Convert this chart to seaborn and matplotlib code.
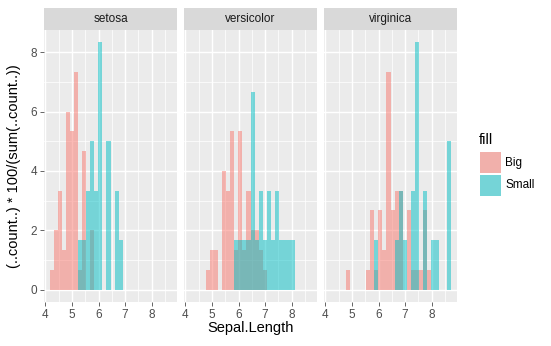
import numpy as np
import pandas as pd
import matplotlib
matplotlib.use("Agg")
import matplotlib.pyplot as plt
import seaborn as sns
from matplotlib.patches import Rectangle

# ---------------- data (percent of group total per bin, bins 0..29) ----------------
species = ["setosa", "versicolor", "virginica"]
groups = ["Big", "Small"]
x_min, x_max = 4.3, 8.7      # range of Sepal.Length over all data
n_bins = 30

setosa_big = [0.67, 2.0, 3.33, 1.33, 6.0, 5.33, 7.33, 0.67, 4.67, 0, 2.0,
              0, 0, 0, 0, 0, 0, 0, 0, 0, 0, 0, 0, 0, 0, 0, 0, 0, 0, 0]
setosa_small = [0, 0, 0, 0, 0, 0, 0, 1.67, 1.67, 3.33, 5.0, 3.33, 8.33, 0, 5.0,
                0, 3.33, 1.67, 0, 0, 0, 0, 0, 0, 0, 0, 0, 0, 0, 0]
versicolor_big = [0, 0, 0, 0, 0.67, 1.33, 1.33, 0, 4.0, 3.33, 5.33, 1.33, 5.33, 1.33,
                  3.33, 2.0, 2.0, 1.33, 0.67, 0, 0, 0, 0, 0, 0, 0, 0, 0, 0, 0]
versicolor_small = [0, 0, 0, 0, 0, 0, 0, 0, 0, 0, 0, 1.67, 1.67, 1.67, 1.67, 6.67,
                    1.67, 3.33, 1.67, 3.33, 1.67, 3.33, 1.67, 1.67, 1.67, 1.67, 0, 0, 0, 0]
virginica_big = [0, 0, 0, 0, 0.67, 0, 0, 0, 0, 0.67, 2.67, 0.67, 2.67, 1.33, 7.33,
                 2.67, 3.33, 3.33, 0, 2.67, 0.67, 0.67, 0.67, 2.67, 0.67, 0, 0, 0, 0, 0]
virginica_small = [0, 0, 0, 0, 0, 0, 0, 0, 0, 0, 0, 1.67, 0, 0, 0, 0, 1.67, 3.33,
                   1.67, 0, 3.33, 8.33, 0, 3.33, 0, 1.67, 1.67, 0, 0, 5.0]

values = {
    ("setosa", "Big"): setosa_big, ("setosa", "Small"): setosa_small,
    ("versicolor", "Big"): versicolor_big, ("versicolor", "Small"): versicolor_small,
    ("virginica", "Big"): virginica_big, ("virginica", "Small"): virginica_small,
}
x_ticks = [4, 5, 6, 7, 8]
y_ticks = [0, 2, 4, 6, 8]
colors = {"Big": "#F8766D", "Small": "#00BFC4"}

# ggplot-style bins (bins = 30)
w = (x_max - x_min) / (n_bins - 1)
origin = w / 2 + np.floor((x_min - w / 2) / w) * w
edges = origin + w * np.arange(n_bins + 1)
centers = (edges[:-1] + edges[1:]) / 2

rows = []
for (sp, g), v in values.items():
    for c, p in zip(centers, v):
        rows.append({"Species": sp, "fill": g, "x": c, "pct": p})
df = pd.DataFrame(rows)

# ---------------- layout ----------------
W, H = 551, 346
FONT = "Liberation Sans"
plt.rcParams["font.family"] = [FONT, "DejaVu Sans"]
fig = plt.figure(figsize=(W / 100, H / 100), dpi=100)
fig.patch.set_facecolor("white")

p_lefts = [44, 184, 324]
pw = 133
p_top, p_bot = 30, 302
strip_h = 22

span = edges[-1] - edges[0]
xlim = (edges[0] - 0.05 * span, edges[-1] + 0.05 * span)
ymax = df["pct"].max()
ylim = (-0.05 * ymax, 1.05 * ymax)

for i, sp in enumerate(species):
    l = p_lefts[i]
    ax = fig.add_axes([l / W, (H - p_bot) / H, pw / W, (p_bot - p_top) / H])
    ax.set_facecolor("#EBEBEB")
    for g in groups:
        sub = df[(df["Species"] == sp) & (df["fill"] == g)]
        sns.histplot(data=sub, x="x", weights="pct", binwidth=w,
                     binrange=(float(edges[0]), float(edges[-1])), color=colors[g],
                     alpha=0.5, linewidth=0, ax=ax, zorder=3)
    ax.set_xlim(*xlim)
    ax.set_ylim(*ylim)
    ax.set_xticks(x_ticks)
    ax.set_xticks([4.5, 5.5, 6.5, 7.5, 8.5], minor=True)
    ax.set_yticks(y_ticks)
    ax.set_yticks([1, 3, 5, 7], minor=True)
    ax.grid(True, which="major", color="white", linewidth=1.07, zorder=0)
    ax.grid(True, which="minor", color="white", linewidth=0.53, zorder=0)
    ax.set_axisbelow(True)
    for s in ax.spines.values():
        s.set_visible(False)
    ax.tick_params(axis="both", which="major", length=2.75, width=0.53, color="#333333",
                   labelcolor="#4D4D4D", labelsize=8.5, pad=2)
    ax.tick_params(axis="both", which="minor", length=0)
    ax.set_xticklabels([str(t) for t in x_ticks])
    if i == 0:
        ax.set_yticklabels([str(t) for t in y_ticks])
    else:
        ax.tick_params(axis="y", which="major", length=0, labelleft=False)
    ax.set_xlabel("")
    ax.set_ylabel("")
    # strip
    fig.patches.append(Rectangle((l / W, (H - p_top) / H), pw / W, strip_h / H,
                                 transform=fig.transFigure, facecolor="#D9D9D9",
                                 edgecolor="none", zorder=1))
    fig.text((l + pw / 2) / W, (H - p_top + strip_h / 2) / H, sp, ha="center", va="center",
             fontsize=8.5, color="#1A1A1A")

# axis titles
fig.text((p_lefts[0] + p_lefts[-1] + pw) / 2 / W, (H - 328) / H, "Sepal.Length",
         ha="center", va="center", fontsize=10.5, color="black")
fig.text(14 / W, (H - (p_top + p_bot) / 2) / H, "(..count..) * 100/(sum(..count..))",
         ha="center", va="center", rotation=90, fontsize=10.5, color="black")

# legend
fig.text(479 / W, (H - 140) / H, "fill", ha="left", va="center", fontsize=10.5, color="black")
key_top = [152.3, 175.2]
key_size = 20.5
for g, ky in zip(groups, key_top):
    fig.patches.append(Rectangle((480 / W, (H - ky - key_size) / H), key_size / W, key_size / H,
                                 transform=fig.transFigure, facecolor="#EBEBEB",
                                 edgecolor="none", zorder=1))
    fig.patches.append(Rectangle((480 / W, (H - ky - key_size) / H), key_size / W, key_size / H,
                                 transform=fig.transFigure, facecolor=colors[g], alpha=0.5,
                                 edgecolor="none", zorder=2))
    fig.text(505 / W, (H - ky - key_size / 2) / H, g, ha="left", va="center", fontsize=8.5,
             color="black")

fig.savefig("out.png", dpi=100)
